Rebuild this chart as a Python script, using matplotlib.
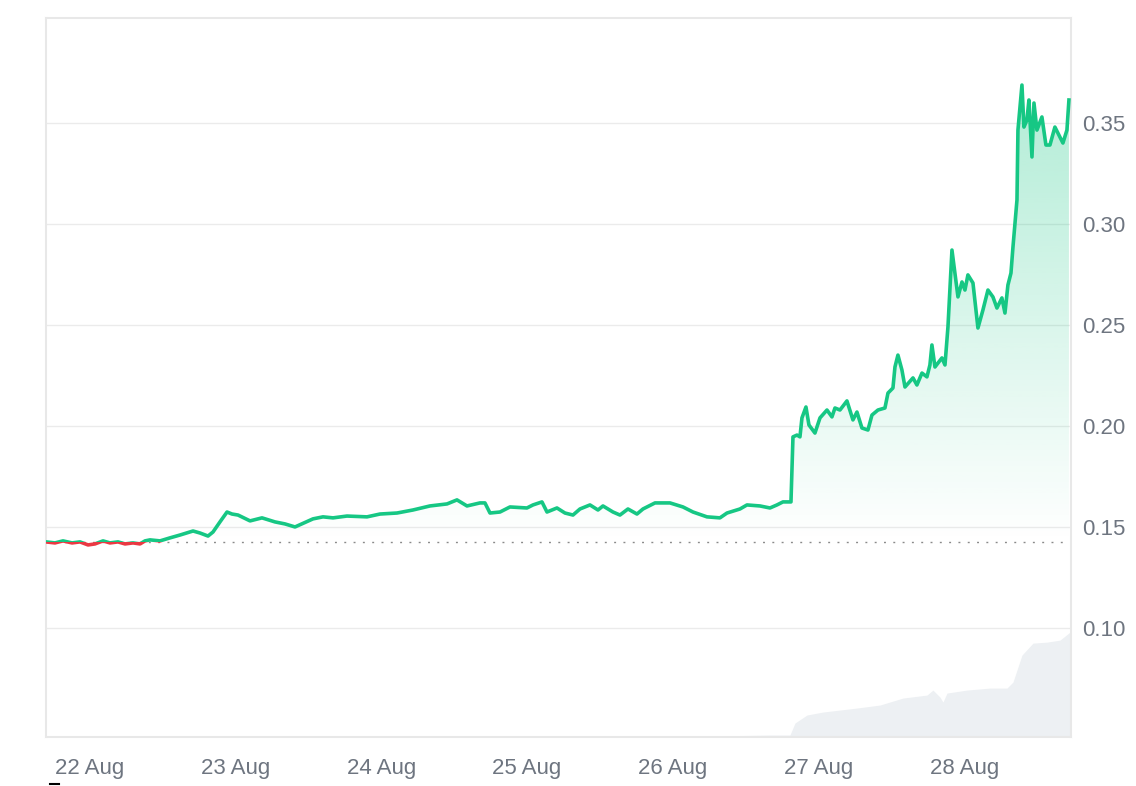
import numpy as np
import matplotlib

matplotlib.use("Agg")
import matplotlib.pyplot as plt
from matplotlib.patches import Rectangle
from matplotlib.lines import Line2D

plt.rcParams["font.family"] = ["Liberation Sans", "DejaVu Sans"]

# 价格序列:小时(相对 22 Aug 00:00)与价格
hours = [-7.25, -5.77, -4.45, -2.96, -1.65, -0.33, 0.82, 2.14, 3.29, 4.61,
         5.77, 7.08, 8.24, 9.06, 9.88, 11.53, 13.18, 14.82, 16.97, 18.12,
         19.44, 20.26, 21.41, 22.57, 23.39, 24.38, 26.36, 28.33, 30.47, 32.12,
         33.77, 36.73, 38.38, 40.03, 42.33, 45.63, 47.77, 50.57, 53.20, 56.00,
         58.81, 60.45, 62.10, 64.24, 65.06, 65.89, 67.54, 69.18, 71.98, 72.97,
         74.45, 75.28, 76.92, 78.24, 79.56, 80.71, 82.36, 83.68, 84.50, 86.15,
         87.30, 88.62, 90.10, 91.09, 93.07, 95.54, 97.68, 99.33, 101.63, 103.77,
         104.93, 107.07, 108.22, 110.36, 112.01, 113.16, 114.15, 115.47, 115.80, 116.46,
         116.95, 117.28, 117.94, 118.43, 119.42, 120.25, 121.40, 122.22, 122.72, 123.54,
         124.69, 125.68, 126.34, 127.16, 128.15, 128.81, 129.80, 130.95, 131.45, 132.27,
         132.60, 133.09, 133.75, 134.25, 135.57, 136.22, 137.05, 137.87, 138.36, 138.69,
         139.19, 140.34, 140.84, 141.33, 141.99, 142.48, 142.98, 143.64, 144.13, 144.62,
         145.45, 146.27, 147.09, 147.92, 148.74, 149.40, 150.22, 150.72, 151.21, 151.71,
         152.04, 152.70, 152.86, 153.52, 153.85, 154.34, 154.67, 155.17, 155.50, 155.99,
         156.81, 157.47, 158.13, 158.95, 159.78, 160.27, 160.93, 161.26]
price = [0.1426, 0.1421, 0.1431, 0.1421, 0.1426, 0.1411, 0.1416, 0.1431, 0.1421, 0.1426,
         0.1416, 0.1421, 0.1416, 0.1431, 0.1436, 0.1431, 0.1446, 0.1460, 0.1480, 0.1470,
         0.1455, 0.1475, 0.1525, 0.1574, 0.1564, 0.1559, 0.1530, 0.1545, 0.1525, 0.1515,
         0.1500, 0.1540, 0.1550, 0.1545, 0.1554, 0.1550, 0.1564, 0.1569, 0.1584, 0.1604,
         0.1614, 0.1634, 0.1604, 0.1619, 0.1619, 0.1569, 0.1574, 0.1599, 0.1594, 0.1609,
         0.1624, 0.1574, 0.1594, 0.1569, 0.1559, 0.1589, 0.1609, 0.1584, 0.1604, 0.1574,
         0.1559, 0.1589, 0.1564, 0.1589, 0.1619, 0.1619, 0.1599, 0.1574, 0.1550, 0.1545,
         0.1569, 0.1589, 0.1609, 0.1604, 0.1594, 0.1609, 0.1624, 0.1624, 0.1946, 0.1955,
         0.1946, 0.2040, 0.2094, 0.2005, 0.1965, 0.2040, 0.2079, 0.2045, 0.2089, 0.2079,
         0.2124, 0.2030, 0.2069, 0.1990, 0.1980, 0.2054, 0.2079, 0.2089, 0.2163, 0.2188,
         0.2292, 0.2351, 0.2277, 0.2193, 0.2238, 0.2203, 0.2262, 0.2243, 0.2302, 0.2401,
         0.2292, 0.2337, 0.2302, 0.2490, 0.2871, 0.2757, 0.2639, 0.2713, 0.2673, 0.2748,
         0.2708, 0.2485, 0.2574, 0.2673, 0.2639, 0.2584, 0.2634, 0.2559, 0.2698, 0.2757,
         0.2886, 0.3119, 0.3465, 0.3688, 0.3480, 0.3515, 0.3614, 0.3332, 0.3599, 0.3465,
         0.3530, 0.3391, 0.3391, 0.3480, 0.3431, 0.3401, 0.3465, 0.3614]

# 成交量(单位任意)
vol_hours = [-7.25, 107.07, 112.01, 115.30, 116.13, 118.10, 120.74, 126.34, 130.13, 133.92,
             137.87, 138.86, 140.01, 140.51, 141.17, 144.46, 148.25, 151.05, 152.04, 153.52,
             155.33, 157.64, 159.78, 161.43]
volume = [0.1, 0.15, 0.2, 0.2, 1.4, 2.2, 2.5, 2.9, 3.2, 3.9,
          4.2, 4.7, 4.0, 3.5, 4.4, 4.7, 4.9, 4.9, 5.5, 8.2,
          9.4, 9.5, 9.7, 10.5]

day_ticks = [0, 24, 48, 72, 96, 120, 144]
day_labels = ["22 Aug", "23 Aug", "24 Aug", "25 Aug", "26 Aug", "27 Aug", "28 Aug"]
price_ticks = [0.10, 0.15, 0.20, 0.25, 0.30, 0.35]

GREEN = "#16c784"
RED = "#ea3943"
base = price[0]
x0, x1 = -7.25, 161.6
y0, y1 = 0.046, 0.402

fig = plt.figure(figsize=(11.36, 7.86), dpi=100)
ax = fig.add_axes([46 / 1136, 49 / 786, 1025 / 1136, 719 / 786])
ax.set_xlim(x0, x1)
ax.set_ylim(y0, y1)

# 成交量(底部灰色区域)
axv = ax.twinx()
axv.set_ylim(0, 72)
axv.fill_between(vol_hours, volume, 0, color="#edf0f3", lw=0, zorder=1)
axv.axis("off")
ax.set_zorder(axv.get_zorder() + 1)
ax.patch.set_visible(False)

# 网格与基准线
for t in price_ticks:
    ax.axhline(t, color="#ebebeb", lw=1, zorder=0)
ax.axhline(base, color="#8a8a8a", lw=1.0, ls=(0, (1.4, 5.3)), zorder=2)

# 渐变填充(价格线到基准线之间)
h = np.array(hours)
p = np.array(price)
poly = ax.fill_between(h, np.maximum(p, base), base,
                       facecolor="none", edgecolor="none")
ys = np.linspace(y1, y0, 400)
alpha = np.clip(0.32 * (ys - base) / (0.36 - base), 0, None)
grad = np.zeros((400, 1, 4))
grad[..., 0], grad[..., 1], grad[..., 2] = 22 / 255, 199 / 255, 132 / 255
grad[:, 0, 3] = alpha
im = ax.imshow(grad, extent=[x0, x1, y0, y1], aspect="auto", zorder=2,
               interpolation="bilinear")
im.set_clip_path(poly.get_paths()[0], transform=ax.transData)
ax.set_xlim(x0, x1)
ax.set_ylim(y0, y1)

# 价格线:基准线上方绿、下方红
up = ax.plot(h, p, color=GREEN, lw=2.6, zorder=3, solid_joinstyle="round")[0]
up.set_clip_path(Rectangle((x0, base), x1 - x0, y1 - base, transform=ax.transData))
dn = ax.plot(h, p, color=RED, lw=2.6, zorder=3, solid_joinstyle="round")[0]
dn.set_clip_path(Rectangle((x0, y0), x1 - x0, base - y0, transform=ax.transData))

# 坐标轴
ax.yaxis.tick_right()
ax.set_yticks(price_ticks)
ax.set_yticklabels([f"{v:.2f}" for v in price_ticks])
ax.set_xticks(day_ticks)
ax.set_xticklabels(day_labels)
ax.tick_params(axis="y", length=0, pad=8, labelsize=16, labelcolor="#6e7580")
ax.tick_params(axis="x", length=0, pad=15, labelsize=16, labelcolor="#6e7580")
for s in ax.spines.values():
    s.set_color("#e8e8e8")
    s.set_linewidth(1.5)

fig.add_artist(Line2D([50 / 1136, 59 / 1136], [2 / 786, 2 / 786], color="black", lw=1.5))

fig.savefig("out.png", dpi=100)
